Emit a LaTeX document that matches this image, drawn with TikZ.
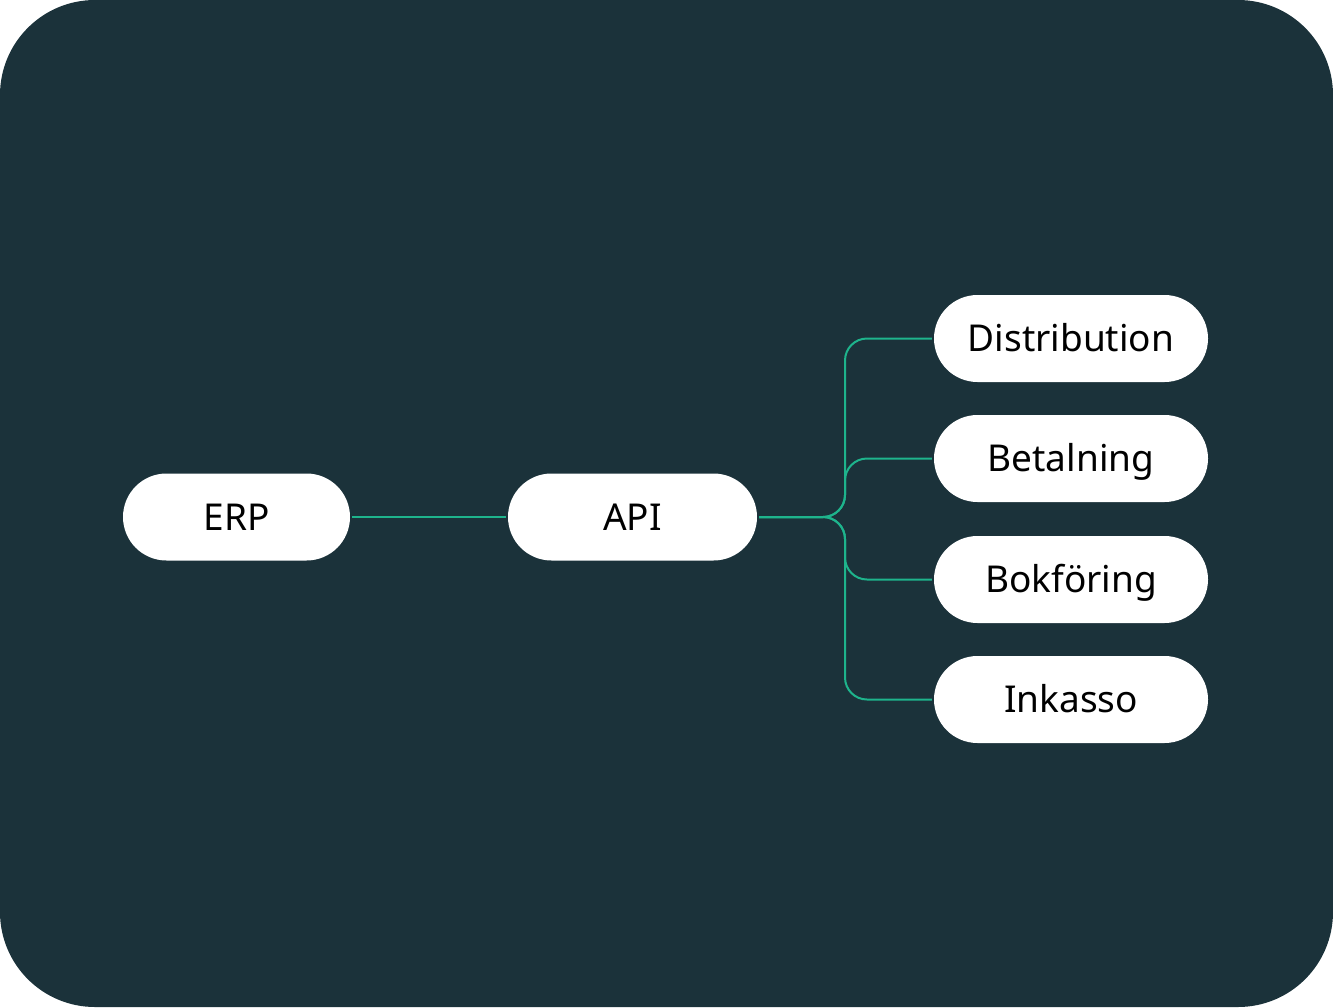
\documentclass[tikz,border=0pt]{standalone}
\usepackage{fontspec}
\setmainfont{Noto Sans}
\usetikzlibrary{positioning}
\definecolor{panel}{RGB}{27,50,58}
\definecolor{link}{RGB}{30,180,140}
\tikzset{
  pill/.style={fill=white,rounded corners=43.5pt,minimum height=87pt,inner sep=0pt,
    font=\fontsize{37}{40}\selectfont,text=black,text height=26.4pt,text depth=0pt},
  wire/.style={link,line width=2pt,rounded corners=22pt,shorten <=2pt,shorten >=2pt}
}
\begin{document}
\begin{tikzpicture}[x=1pt,y=-1pt]
\fill[panel,rounded corners=95pt] (0,0) rectangle (1333,1007);
\useasboundingbox (0,0) rectangle (1333,1007);
\path (236.5,517) node[pill,minimum width=227pt] (erp) {ERP}
(632.5,517) node[pill,minimum width=249pt] (api) {API}
(1071,338.5) node[pill,minimum width=274pt] (dist) {Distribution}
(1071,458.5) node[pill,minimum width=274pt] (bet) {Betalning}
(1071,579.5) node[pill,minimum width=274pt] (bok) {Bokföring}
(1071,699.5) node[pill,minimum width=274pt] (ink) {Inkasso};
\coordinate (trunk) at (845,517);
\draw[wire] (erp) -- (api);
\foreach \t in {dist,bet,bok,ink}
  \draw[wire] (api.east) -- (trunk) |- (\t.west);
\end{tikzpicture}
\end{document}
